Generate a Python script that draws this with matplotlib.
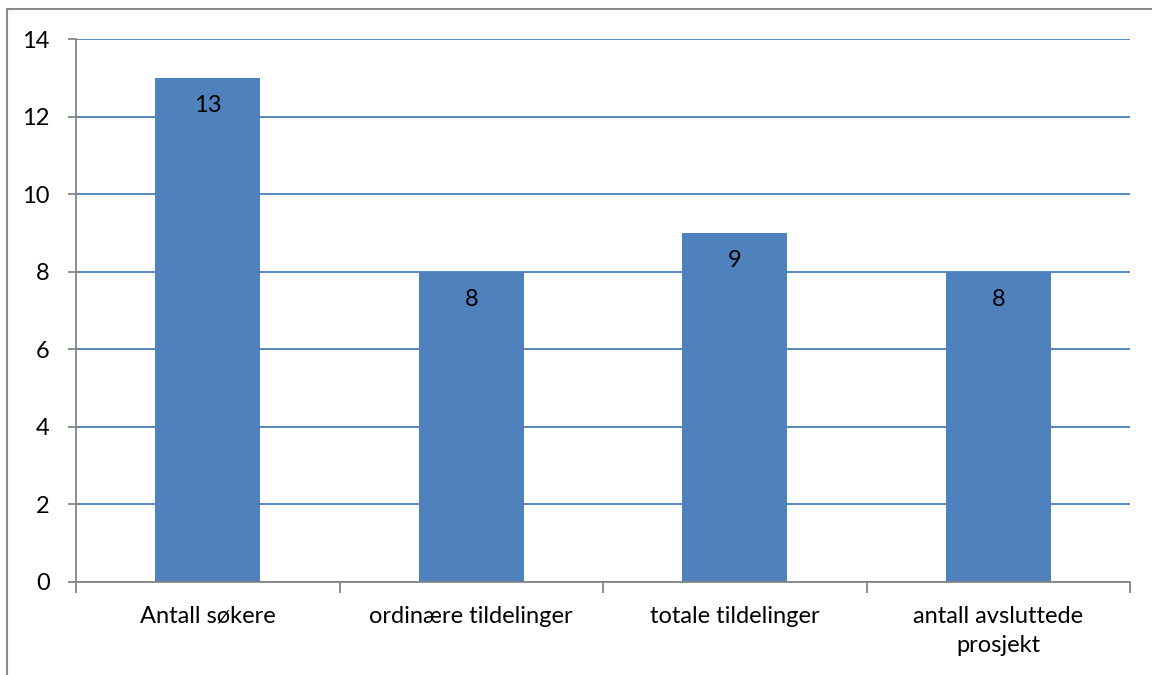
import matplotlib.pyplot as plt
from matplotlib.lines import Line2D

# data
categories = ['Antall søkere', 'ordinære tildelinger', 'totale tildelinger',
              'antall avsluttede\nprosjekt']
values = [13, 8, 9, 8]
yticks = [0, 2, 4, 6, 8, 10, 12, 14]

plt.rcParams['font.family'] = ['Lato', 'DejaVu Sans']

W, H = 1152, 675
FS = 17
fig = plt.figure(figsize=(W / 100, H / 100), dpi=100)
ax = fig.add_axes([76 / W, 1 - 582 / H, (1130 - 76) / W, (582 - 39) / H])

bar_color = '#4F81BD'
grid_color = '#4A7EBB'
axis_color = '#868686'

x = list(range(len(categories)))
ax.bar(x, values, width=0.4, color=bar_color, zorder=2)

for xi, v in zip(x, values):
    ax.annotate(str(v), (xi, v), xytext=(0, -20), textcoords='offset points',
                ha='center', va='center', fontsize=FS, color='black', zorder=3)

ax.set_xlim(-0.5, len(categories) - 0.5)
ax.set_ylim(0, 14)
ax.set_yticks(yticks)
ax.set_yticklabels([str(t) for t in yticks], fontsize=FS)
ax.yaxis.grid(True, color=grid_color, linewidth=1.3, zorder=1)
ax.set_axisbelow(True)

ax.set_xticks(x)
ax.set_xticklabels(categories, fontsize=FS, linespacing=1.5)
ax.tick_params(axis='x', length=0, pad=17)
ax.tick_params(axis='y', length=6, width=1.3, color=axis_color, pad=13)

# category boundary ticks
ax.set_xticks([i - 0.5 for i in range(len(categories) + 1)], minor=True)
ax.tick_params(axis='x', which='minor', length=8, width=1.3, color=axis_color,
               direction='out')

for side in ['top', 'right']:
    ax.spines[side].set_visible(False)
for side in ['left', 'bottom']:
    ax.spines[side].set_color(axis_color)
    ax.spines[side].set_linewidth(1.3)

# outer chart border (cut off at the right and bottom)
fig.add_artist(Line2D([7 / W, 7 / W], [0, 1 - 9 / H], transform=fig.transFigure,
                      color='#8A8A8A', linewidth=1.5))
fig.add_artist(Line2D([7 / W, 1], [1 - 9 / H, 1 - 9 / H], transform=fig.transFigure,
                      color='#8A8A8A', linewidth=1.5))

fig.savefig('out.png', dpi=100)
